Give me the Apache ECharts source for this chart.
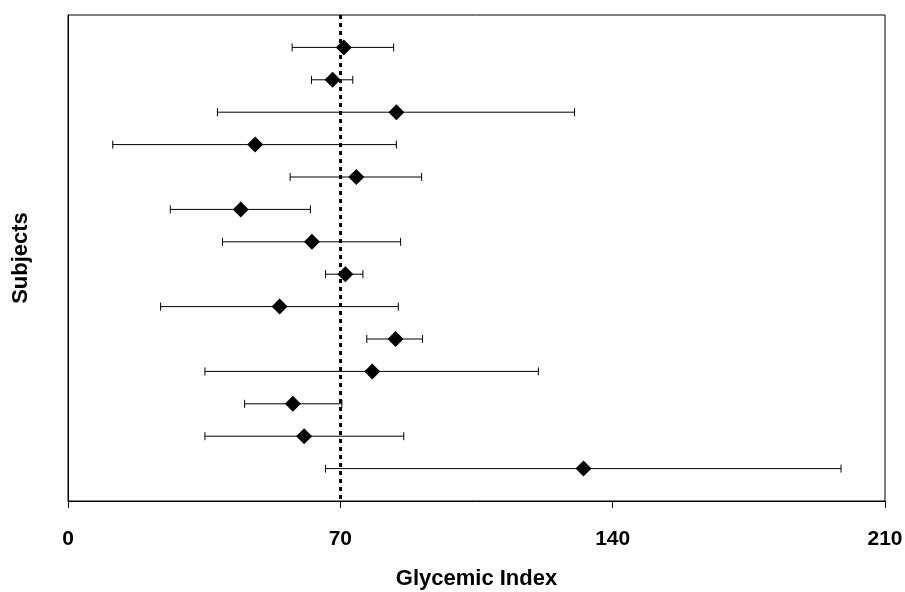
<!DOCTYPE html>
<html>
<head>
<meta charset="utf-8">
<script src="https://cdn.jsdelivr.net/npm/echarts@6/dist/echarts.min.js"></script>
<style>
  html, body { margin: 0; padding: 0; background: #fff; }
  #chart { width: 905px; height: 592px; }
</style>
</head>
<body>
<div id="chart"></div>
<script>
// subjects, top to bottom
var subjects = [1, 2, 3, 4, 5, 6, 7, 8, 9, 10, 11, 12, 13, 14]
var meanGI = [70.9, 68.0, 84.4, 48.1, 74.1, 44.4, 62.7, 71.3, 54.4, 84.2, 78.2, 57.8, 60.7, 132.5]
var lowGI = [57.6, 62.6, 38.4, 11.5, 57.1, 26.3, 39.7, 66.2, 23.8, 76.8, 35.2, 45.4, 35.2, 66.2]
var highGI = [83.7, 73.2, 130.2, 84.4, 90.9, 62.3, 85.5, 75.8, 84.9, 91.1, 120.9, 70.4, 86.3, 198.7]
var xTicks = [0, 70, 140, 210]
var refGI = 70

var chart = echarts.init(document.getElementById('chart'))

var errData = subjects.map(function (s, i) { return [lowGI[i], highGI[i], s] })
var meanData = subjects.map(function (s, i) { return [meanGI[i], s] })

var boldFont = { fontFamily: 'Liberation Sans', fontWeight: 'bold', fontSize: 22, color: '#000' }

chart.setOption({
  backgroundColor: '#fff',
  animation: false,
  grid: {
    left: 68, right: 20, top: 15, bottom: 91,
    outerBoundsMode: 'none',
    show: true, borderColor: '#000', borderWidth: 1
  },
  xAxis: {
    type: 'value',
    position: 'bottom',
    min: xTicks[0],
    max: xTicks[xTicks.length - 1],
    interval: 70,
    name: 'Glycemic Index',
    nameLocation: 'middle',
    nameGap: 67,
    nameTextStyle: boldFont,
    axisLine: { onZero: false, lineStyle: { color: '#000', width: 1 } },
    axisTick: { show: true, length: 7, inside: false, lineStyle: { color: '#000' } },
    axisLabel: { margin: 28, fontFamily: 'Liberation Sans', fontWeight: 'bold', fontSize: 21, color: '#000' },
    splitLine: { show: false }
  },
  yAxis: {
    type: 'value',
    min: 0,
    max: 15,
    inverse: true,
    name: 'Subjects',
    nameLocation: 'middle',
    nameGap: 36,
    nameTextStyle: boldFont,
    axisLine: { show: true, onZero: false, lineStyle: { color: '#000', width: 1 } },
    axisTick: { show: false },
    axisLabel: { show: false },
    splitLine: { show: false }
  },
  series: [
    {
      type: 'custom',
      data: errData,
      z: 2,
      renderItem: function (params, api) {
        var y = api.value(2)
        var a = api.coord([api.value(0), y])
        var b = api.coord([api.value(1), y])
        var h = 4
        var st = { stroke: '#000', lineWidth: 1 }
        return {
          type: 'group',
          children: [
            { type: 'line', shape: { x1: a[0], y1: a[1], x2: b[0], y2: b[1] }, style: st },
            { type: 'line', shape: { x1: a[0], y1: a[1] - h, x2: a[0], y2: a[1] + h }, style: st },
            { type: 'line', shape: { x1: b[0], y1: b[1] - h, x2: b[0], y2: b[1] + h }, style: st }
          ]
        }
      }
    },
    {
      type: 'scatter',
      data: meanData,
      symbol: 'diamond',
      symbolSize: 16,
      z: 4,
      itemStyle: { color: '#000', opacity: 1 },
      markLine: {
        silent: true,
        symbol: 'none',
        label: { show: false },
        lineStyle: { color: '#000', width: 3, type: [4, 4] },
        data: [{ xAxis: refGI }]
      }
    }
  ]
})
</script>
</body>
</html>
